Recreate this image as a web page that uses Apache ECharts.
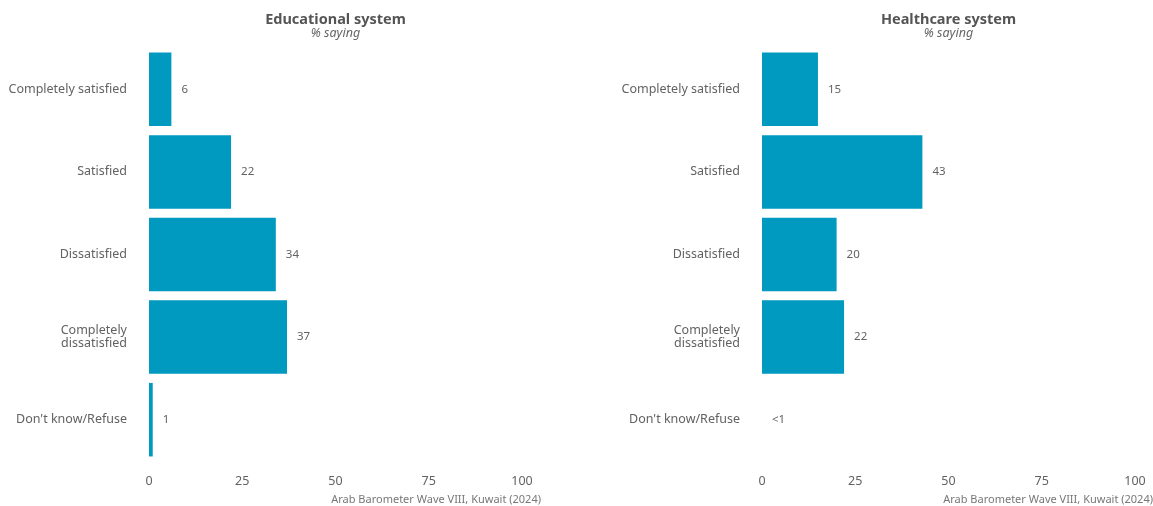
<!DOCTYPE html>
<html>
<head>
<meta charset="utf-8">
<style>
  html, body { margin: 0; padding: 0; background: #ffffff; }
  #chart { width: 1153px; height: 506px; }
</style>
<script src="https://cdn.jsdelivr.net/npm/echarts@6/dist/echarts.min.js"></script>
</head>
<body>
<div id="chart"></div>
<script>
// Satisfaction with public services, Kuwait
const categories = [
  'Completely satisfied',
  'Satisfied',
  'Dissatisfied',
  'Completely\ndissatisfied',
  "Don't know/Refuse"
];
const educationValues = [6, 22, 34, 37, 1];
const healthcareValues = [15, 43, 20, 22, 0];
const panelTitles = ['Educational system', 'Healthcare system'];
const subtitleText = '% saying';
const sourceText = 'Arab Barometer Wave VIII, Kuwait (2024)';
const xTicks = [0, 25, 50, 75, 100];

const FONT = '"Noto Sans", sans-serif';
const BAR = '#0099c0';
const TEXT = '#626262';

const grids = [
  { left: 149, top: 48, width: 373, height: 413 },
  { left: 762, top: 48, width: 373, height: 413 }
];

function xAxisFor(i) {
  return {
    type: 'value', gridIndex: i, min: 0, max: 100, interval: 25,
    axisLine: { show: false }, axisTick: { show: false }, splitLine: { show: false },
    axisLabel: {
      color: TEXT, fontFamily: FONT, fontSize: 12.5, margin: 14,
      formatter: v => (xTicks.includes(v) ? String(v) : '')
    }
  };
}
function yAxisFor(i) {
  return {
    type: 'category', gridIndex: i, data: categories, inverse: true,
    axisLine: { show: false }, axisTick: { show: false },
    axisLabel: { color: TEXT, fontFamily: FONT, fontSize: 12.5, margin: 22, align: 'right', lineHeight: 13 }
  };
}
function seriesFor(i, values) {
  return {
    type: 'bar', xAxisIndex: i, yAxisIndex: i, data: values,
    barWidth: '89%',
    itemStyle: { color: BAR },
    label: {
      show: true, position: 'right', distance: 10,
      color: TEXT, fontFamily: FONT, fontSize: 11.5,
      formatter: p => (p.value < 1 ? '<1' : String(p.value))
    },
    silent: true
  };
}

// Panel headings and source notes as free text
const texts = [];
grids.forEach((g, i) => {
  const cx = g.left + g.width / 2;
  texts.push({
    type: 'text', x: cx, y: 20, silent: true,
    style: { text: panelTitles[i], textAlign: 'center', textVerticalAlign: 'middle',
      fill: '#555555', font: 'bold 14.5px ' + FONT }
  });
  texts.push({
    type: 'text', x: cx, y: 33, silent: true,
    style: { text: subtitleText, textAlign: 'center', textVerticalAlign: 'middle',
      fill: '#666666', font: 'italic 12.5px ' + FONT }
  });
});
texts.push({
  type: 'text', x: 541, y: 500, silent: true,
  style: { text: sourceText, textAlign: 'right', textVerticalAlign: 'middle',
    fill: '#777777', font: '11px ' + FONT }
});
texts.push({
  type: 'text', x: 1153, y: 500, silent: true,
  style: { text: sourceText, textAlign: 'right', textVerticalAlign: 'middle',
    fill: '#777777', font: '11px ' + FONT }
});

const chart = echarts.init(document.getElementById('chart'), null, { renderer: 'canvas' });
chart.setOption({
  animation: false,
  backgroundColor: '#ffffff',
  grid: grids,
  xAxis: [xAxisFor(0), xAxisFor(1)],
  yAxis: [yAxisFor(0), yAxisFor(1)],
  series: [seriesFor(0, educationValues), seriesFor(1, healthcareValues)],
  graphic: texts
});
</script>
</body>
</html>
